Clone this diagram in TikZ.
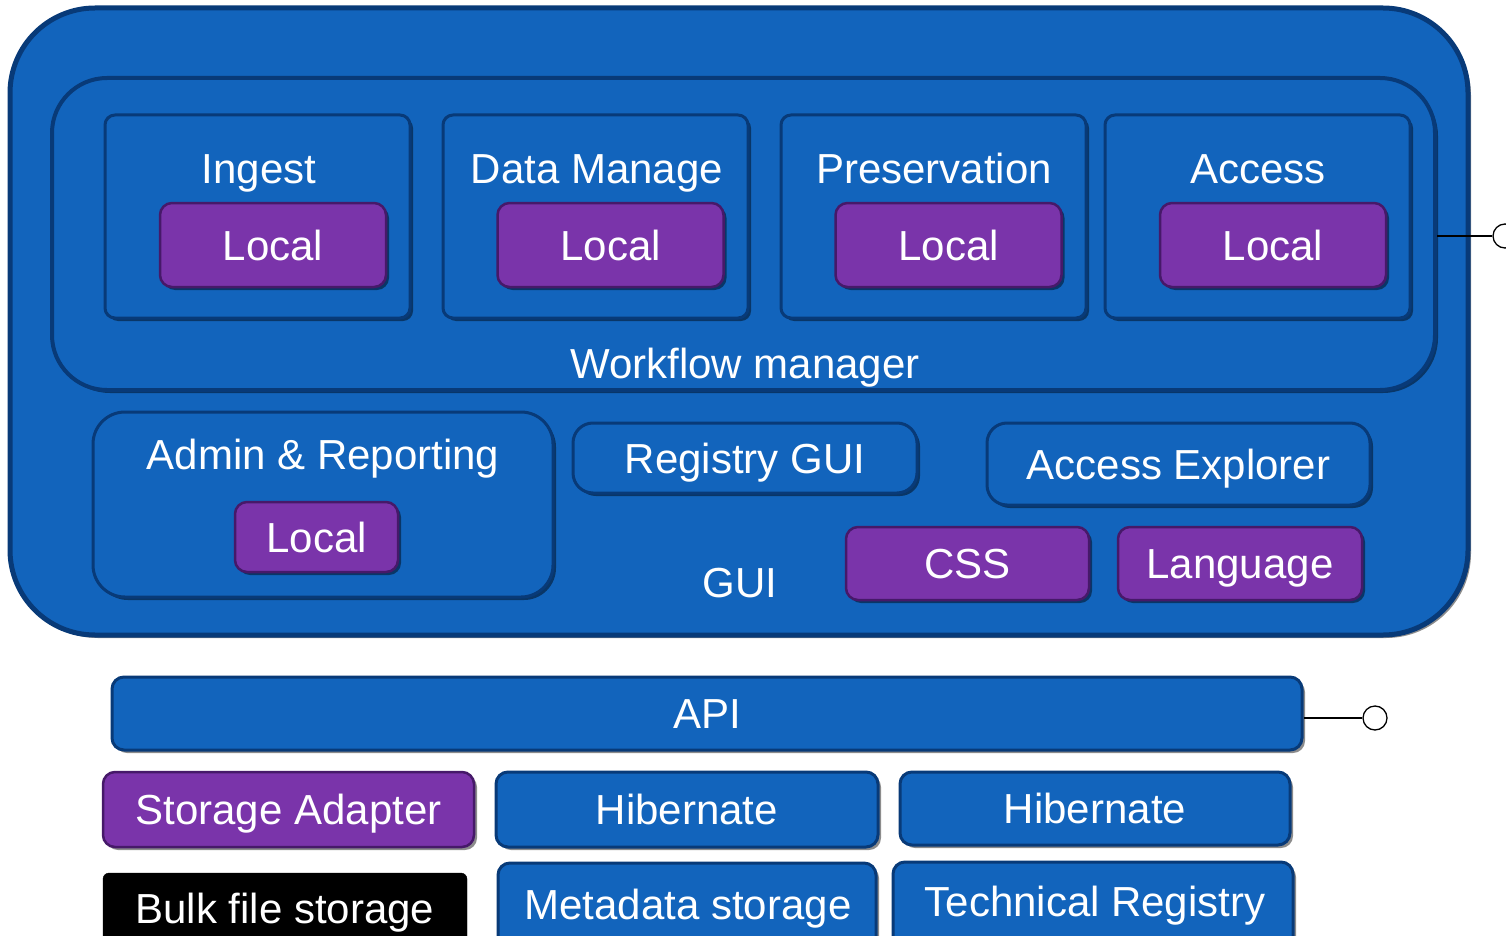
\documentclass[tikz,border=0pt]{standalone}
\usepackage{fontspec}
\setmainfont{Liberation Sans}
\usetikzlibrary{shadows}
\definecolor{blueA}{RGB}{18,100,188}
\definecolor{blueL}{RGB}{70,150,225}
\definecolor{blueD}{RGB}{8,58,120}
\definecolor{purpleA}{RGB}{122,52,170}
\definecolor{purpleL}{RGB}{170,100,215}
\definecolor{purpleD}{RGB}{70,25,105}
\newcommand\lblfont{\fontsize{42}{50}\selectfont}
\tikzset{
  txt/.style={text height=30pt, text depth=0pt},
  bluebox/.style={draw=blueD, line width=3pt, fill=blueA, rounded corners=14pt, text=white, font=\lblfont, inner sep=0pt, txt,
    drop shadow={shadow xshift=3pt, shadow yshift=-3pt, opacity=0.45, fill=black}},
  purplebox/.style={draw=purpleD, line width=2.5pt, fill=purpleA, rounded corners=12pt, text=white, font=\lblfont, inner sep=0pt, txt,
    drop shadow={shadow xshift=3pt, shadow yshift=-3pt, opacity=0.45, fill=black}},
  blackbox/.style={draw=black, fill=black, rounded corners=6pt, text=white, font=\lblfont, inner sep=0pt},
  wtext/.style={text=white, font=\lblfont, inner sep=0pt, txt},
  lolly/.style={circle, draw=black, line width=1.3pt, fill=white, minimum size=24pt, inner sep=0pt},
  wire/.style={draw=black, line width=1.3pt}
}
\begin{document}
\begin{tikzpicture}[x=1pt,y=-1pt]
\useasboundingbox (0,0) rectangle (1506,936);
% outer GUI box
\node[bluebox, rounded corners=85pt, line width=5pt, minimum width=1458pt, minimum height=627pt] (gui) at (739,321.5) {};
% workflow manager
\node[bluebox, rounded corners=55pt, line width=4pt, minimum width=1383pt, minimum height=312pt] (wf) at (743.5,234) {};
% modules
\node[bluebox, rounded corners=10pt, minimum width=305pt, minimum height=203pt] (ing) at (257.5,216.5) {};
\node[bluebox, rounded corners=10pt, minimum width=305pt, minimum height=203pt] (dm) at (595.5,216.5) {};
\node[bluebox, rounded corners=10pt, minimum width=305pt, minimum height=203pt] (pres) at (933.5,216.5) {};
\node[bluebox, rounded corners=10pt, minimum width=305pt, minimum height=203pt] (acc) at (1257.5,216.5) {};
\node[wtext] (ingT) at (259,168) {Ingest};
\node[wtext] (dmT) at (597,168) {Data Manage};
\node[wtext] (presT) at (934,168) {Preservation};
\node[wtext] (accT) at (1258,168) {Access};
\node[purplebox, minimum width=226pt, minimum height=84pt] (l1) at (273,245) {Local};
\node[purplebox, minimum width=226pt, minimum height=84pt] (l2) at (610.5,245) {Local};
\node[purplebox, minimum width=226pt, minimum height=84pt] (l3) at (948.5,245) {Local};
\node[purplebox, minimum width=226pt, minimum height=84pt] (l4) at (1273,245) {Local};
\node[wtext] (wfT) at (745,363) {Workflow manager};
% admin
\node[bluebox, rounded corners=32pt, minimum width=460pt, minimum height=185pt] (adm) at (323,504.5) {};
\node[wtext] (admT) at (323,454) {Admin \& Reporting};
\node[purplebox, minimum width=163pt, minimum height=70pt] (l5) at (316.5,537) {Local};
% registry, explorer
\node[bluebox, rounded corners=20pt, minimum width=344pt, minimum height=70pt] (reg) at (745,458) {Registry GUI};
\node[bluebox, rounded corners=20pt, minimum width=383pt, minimum height=82pt] (aexp) at (1178.5,464) {Access Explorer};
\node[purplebox, minimum width=243pt, minimum height=73pt] (css) at (967.5,563.5) {CSS};
\node[purplebox, minimum width=244pt, minimum height=73pt] (lang) at (1240,563.5) {Language};
\node[wtext] (guiT) at (740,582) {GUI};
% API
\node[bluebox, rounded corners=12pt, minimum width=1190pt, minimum height=73pt] (api) at (707,713.5) {API};
\node[lolly] (c2) at (1375,718) {};
\draw[wire] (api.east |- c2) -- (c2);
\node[lolly] (c1) at (1505,236) {};
\draw[wire] (wf.east |- c1) -- (c1);
% bottom rows
\node[purplebox, minimum width=371pt, minimum height=75pt] (sa) at (288.5,809.5) {Storage Adapter};
\node[bluebox, rounded corners=12pt, minimum width=382pt, minimum height=75pt] (hib1) at (687,809.5) {Hibernate};
\node[bluebox, rounded corners=12pt, minimum width=390pt, minimum height=73pt] (hib2) at (1095,808.5) {Hibernate};
\node[blackbox, minimum width=364pt, minimum height=80pt] (bulk) at (285,913) {};
\node[wtext] (bulkT) at (285,908) {Bulk file storage};
\node[bluebox, rounded corners=12pt, minimum width=378pt, minimum height=90pt] (meta) at (687,908) {};
\node[wtext] (metaT) at (688,904) {Metadata storage};
\node[bluebox, rounded corners=12pt, minimum width=400pt, minimum height=90pt] (tech) at (1093,907) {};
\node[wtext] (techT) at (1095,901) {Technical Registry};
\end{tikzpicture}
\end{document}
